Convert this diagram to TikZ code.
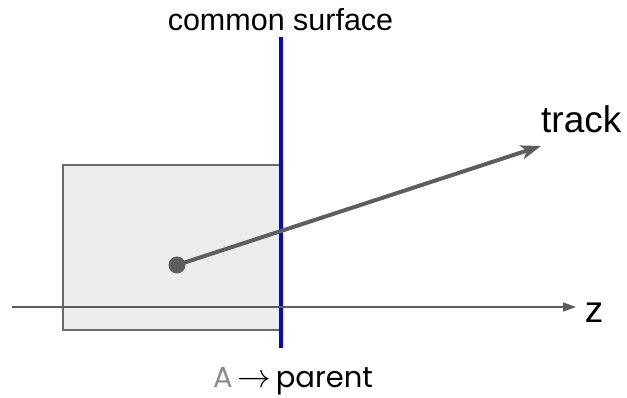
\documentclass[tikz,border=0pt]{standalone}
\usepackage{fontspec}
\setmainfont{Liberation Sans}
\newfontfamily\parentfont{Poppins}
\usepackage{xcolor}
\usetikzlibrary{arrows.meta,positioning}

\definecolor{axisgray}{HTML}{5E5E5E}
\definecolor{boxfill}{HTML}{ECECEC}
\definecolor{boxline}{HTML}{6B6B6B}
\definecolor{labelgray}{HTML}{8C8C8C}

\tikzset{
  volume/.style={draw=boxline, fill=boxfill, line width=1.5pt},
  surface/.style={blue, line width=3.5pt},
  axisline/.style={axisgray, line width=1.4pt, -{Triangle[length=13pt,width=9pt]}},
  trackline/.style={axisgray, line width=4pt, -{Stealth[length=20pt,width=14pt,inset=5pt]}},
  vertex/.style={circle, fill=axisgray, inner sep=0pt, minimum size=17pt},
  bigtext/.style={inner sep=0pt, font=\fontsize{37}{40}\selectfont},
  toptext/.style={inner sep=0pt, font=\fontsize{30.5}{34}\selectfont}
}

\begin{document}
\begin{tikzpicture}[x=1pt, y=-1pt]
\useasboundingbox (0,0) rectangle (627,398);

% volume and common surface
\draw[volume] (63,165) rectangle (280,330);
\coordinate (surftop) at (281,37);
\coordinate (surfbot) at (281,348);
\draw[surface] (surftop) -- (surfbot);
\node[toptext, anchor=base] (surflabel) at (280.5,31) {common surface};

% z axis
\coordinate (zstart) at (12,307);
\coordinate (zend) at (576,307);
\draw[axisline] (zstart) -- (zend);
\node[bigtext, anchor=base] (zlabel) at (594,323) {z};

% track
\node[vertex] (vtx) at (177,265) {};
\coordinate (trackend) at (541,146);
\draw[trackline] (vtx.center) -- (trackend);
\node[bigtext, anchor=base west] (tracklabel) at (541,133) {track};

% parent label
\node[inner sep=0pt, anchor=base, font=\parentfont\fontsize{29}{32}\selectfont] (parentlabel) at (293,387)
  {\textcolor{labelgray}{A}\,\scalebox{1.35}{$\rightarrow$}\,parent};
\end{tikzpicture}
\end{document}
